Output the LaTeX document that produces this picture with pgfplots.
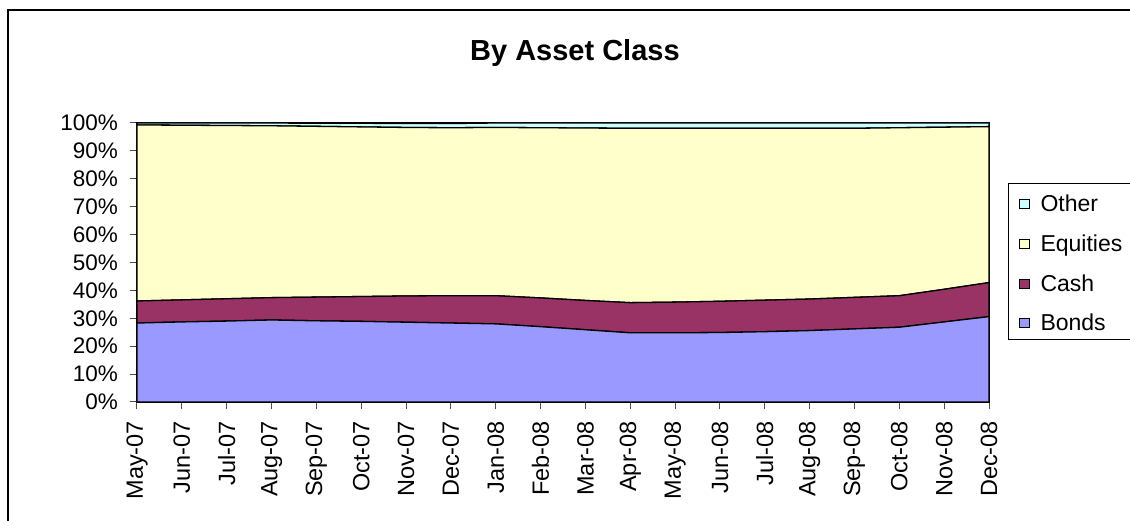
\documentclass[border=0pt]{standalone}
\usepackage{fontspec}
\setmainfont{Liberation Sans}
\usepackage{pgfplots}
\pgfplotsset{compat=1.18}
\definecolor{bonds}{HTML}{9999FF}
\definecolor{cash}{HTML}{993366}
\definecolor{equities}{HTML}{FFFFCC}
\definecolor{other}{HTML}{CCFFFF}
\begin{document}
\begin{tikzpicture}[x=1pt,y=1pt]
\useasboundingbox (-137,-119) rectangle (993,402);
\draw[line width=1.8pt] (-129,-130) -- (-129,392) -- (1000,392);
\draw[line width=1pt] (1000,218) -- (871,218) -- (871,62) -- (1000,62);
\begin{axis}[
  at={(0,0)}, anchor=south west,
  scale only axis, width=852pt, height=279pt,
  xmin=0, xmax=19, ymin=0, ymax=100,
  stack plots=y,
  xtick={0,...,19},
  xticklabels={May-07,Jun-07,Jul-07,Aug-07,Sep-07,Oct-07,Nov-07,Dec-07,Jan-08,Feb-08,Mar-08,Apr-08,May-08,Jun-08,Jul-08,Aug-08,Sep-08,Oct-08,Nov-08,Dec-08},
  xticklabel style={rotate=90, anchor=east, font=\fontsize{23.5}{28}\selectfont, inner sep=0pt},
  xticklabel shift=12pt,
  ytick={0,10,...,100},
  yticklabel={\pgfmathprintnumber{\tick}\%},
  yticklabel style={font=\fontsize{22.5}{26}\selectfont, inner sep=0pt, xshift=-12pt},
  /pgf/number format/assume math mode=true,
  tick align=outside, major tick length=7pt,
  tick style={black!70, line width=1pt},
  axis line style={line width=1.3pt},
  x axis line style={black}, y axis line style={black},
  xtick pos=bottom, ytick pos=left,
  clip=false,
  legend style={at={(rel axis cs:1.0,1)}, anchor=north west, draw=none, fill=none,
    font=\fontsize{23}{27}\selectfont, row sep=17.5pt, inner xsep=0pt, inner ysep=0pt,
    xshift=882pt-852pt, yshift=-70pt,
    /tikz/every odd column/.style={column sep=9pt}},
  legend cell align=left,
  reverse legend,
  legend image code/.code={\draw[#1, draw=black, line width=0.8pt] (0pt,-4.5pt) rectangle (9.5pt,4.5pt);},
]
\addplot[fill=bonds, draw=black, line width=1.3pt] coordinates {
(0,28.3) (1,28.7) (2,29.0) (3,29.4) (4,29.1) (5,28.9) (6,28.6) (7,28.3) (8,28.0) (9,27.0)
(10,25.9) (11,24.8) (12,24.8) (13,24.9) (14,25.2) (15,25.6) (16,26.2) (17,26.8) (18,28.7) (19,30.6)} \closedcycle;
\addlegendentry{Bonds}
\addplot[fill=cash, draw=black, line width=1.3pt] coordinates {
(0,7.9) (1,7.9) (2,8.0) (3,8.0) (4,8.5) (5,8.9) (6,9.4) (7,9.8) (8,10.1) (9,10.3)
(10,10.5) (11,10.8) (12,11.0) (13,11.2) (14,11.3) (15,11.3) (16,11.3) (17,11.3) (18,11.7) (19,12.2)} \closedcycle;
\addlegendentry{Cash}
\addplot[fill=equities, draw=black, line width=1.3pt] coordinates {
(0,63.1) (1,62.6) (2,62.1) (3,61.6) (4,61.2) (5,60.8) (6,60.4) (7,60.2) (8,60.3) (9,61.0)
(10,61.8) (11,62.5) (12,62.3) (13,62.0) (14,61.6) (15,61.2) (16,60.6) (17,60.2) (18,58.1) (19,55.9)} \closedcycle;
\addlegendentry{Equities}
\addplot[fill=other, draw=black, line width=1.3pt] coordinates {
(0,0.7) (1,0.8) (2,0.9) (3,1.0) (4,1.1) (5,1.3) (6,1.4) (7,1.5) (8,1.6) (9,1.7)
(10,1.8) (11,1.9) (12,1.9) (13,1.9) (14,1.9) (15,1.9) (16,1.9) (17,1.7) (18,1.5) (19,1.3)} \closedcycle;
\addlegendentry{Other}
\node[font=\bfseries\fontsize{29}{33}\selectfont] at (rel axis cs:0.514,1.252) {By Asset Class};
\end{axis}
\end{tikzpicture}
\end{document}
